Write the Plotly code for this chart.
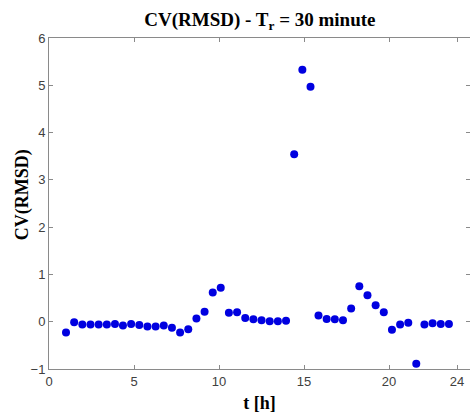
import plotly.graph_objects as go

# Time stamps of the 30-minute windows [h]
t_hours = [1.00, 1.48, 1.96, 2.44, 2.92, 3.40, 3.88, 4.35, 4.83, 5.31,
           5.79, 6.27, 6.75, 7.23, 7.71, 8.19, 8.67, 9.15, 9.63, 10.10,
           10.58, 11.06, 11.54, 12.02, 12.50, 12.98, 13.46, 13.94, 14.42, 14.90,
           15.38, 15.85, 16.33, 16.81, 17.29, 17.77, 18.25, 18.73, 19.21, 19.69,
           20.17, 20.65, 21.13, 21.60, 22.08, 22.56, 23.04, 23.52]

# Coefficient of variation of the RMSD for each window
cv_rmsd = [-0.23, -0.01, -0.06, -0.06, -0.06, -0.06, -0.05, -0.08, -0.05, -0.07,
           -0.10, -0.10, -0.08, -0.13, -0.23, -0.16, 0.07, 0.21, 0.62, 0.72,
           0.19, 0.20, 0.08, 0.05, 0.03, 0.01, 0.01, 0.02, 3.54, 5.33,
           4.97, 0.13, 0.06, 0.05, 0.03, 0.28, 0.75, 0.56, 0.35, 0.20,
           -0.17, -0.06, -0.02, -0.89, -0.06, -0.03, -0.05, -0.05]

x_ticks = [0, 5, 10, 15, 20, 24]
y_ticks = [-1, 0, 1, 2, 3, 4, 5, 6]

serif = "Liberation Serif, Times New Roman, serif"
label_font = dict(family=serif, size=18, color="black", weight="bold")

fig = go.Figure()
fig.add_trace(go.Scatter(
    x=t_hours, y=cv_rmsd, mode="markers",
    marker=dict(color="#0000e0", size=8, line=dict(width=0)),
    showlegend=False,
))

axis_common = dict(
    showgrid=False, zeroline=False,
    showline=True, linecolor="#8a8a8a", linewidth=1,
    ticks="inside", ticklen=4, tickcolor="#8a8a8a", tickwidth=1,
    mirror="ticks",
    tickfont=dict(family="Liberation Sans, Arial, sans-serif", size=13, color="#404040"),
)

fig.update_layout(
    width=470, height=414,
    margin=dict(l=49, r=0, t=38, b=45),
    paper_bgcolor="white", plot_bgcolor="white",
    title=dict(
        text="CV(RMSD) - T<sub>r</sub> = 30 minute",
        x=0.553, xanchor="center", y=0.953, yanchor="middle",
        font=dict(family=serif, size=19, color="black", weight="bold"),
    ),
    xaxis=dict(
        range=[0, 24.76], tickvals=x_ticks,
        title=dict(text="t [h]", standoff=8, font=label_font),
        **axis_common,
    ),
    yaxis=dict(range=[-1, 6], tickvals=y_ticks, **axis_common),
)

# Vertical axis label placed beside the tick labels
fig.add_annotation(
    text="CV(RMSD)", textangle=-90,
    xref="paper", yref="paper", x=-0.064, y=0.525,
    xanchor="center", yanchor="middle", showarrow=False,
    font=label_font,
)

fig.write_html("out.html")
